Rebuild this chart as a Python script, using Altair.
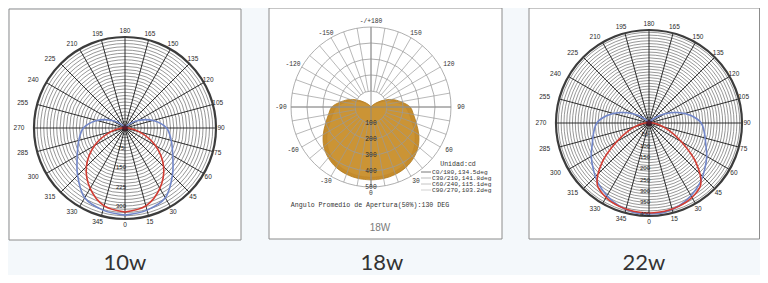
import altair as alt
import numpy as np
import pandas as pd

# ---------------- data ----------------
# 10w : candela at gamma angle (0 = straight down), mirrored for the other side
gamma15 = [0, 15, 30, 45, 60, 75, 90, 105, 120, 135, 150, 165, 180]
blue_10w = [335, 327, 310, 258, 212, 184, 160, 112, 58, 20, 5, 0, 0]
red_10w = [323, 310, 268, 210, 135, 58, 12, 0, 0, 0, 0, 0, 0]

# 18w and 22w : candela every 10 degrees
gamma10 = [0, 10, 20, 30, 40, 50, 60, 70, 80, 90, 100, 110, 120, 130, 140, 150, 160, 170, 180]
c0_18w = [456, 454, 448, 436, 415, 385, 345, 302, 270, 245, 190, 138, 80, 35, 12, 3, 0, 0, 0]
c90_18w = [440, 437, 430, 416, 392, 358, 315, 272, 242, 215, 165, 110, 58, 22, 6, 0, 0, 0, 0]
blue_22w = [401, 399, 388, 370, 348, 320, 294, 266, 248, 230, 188, 135, 82, 40, 15, 4, 0, 0, 0]
red_22w = [397, 395, 390, 379, 355, 270, 165, 92, 45, 18, 5, 0, 0, 0, 0, 0, 0, 0, 0]

# tick labels
angle_ticks_15 = list(range(0, 360, 15))
angle_ticks_30 = list(range(0, 360, 30))
angle_text_18w = ["0", "30", "60", "90", "120", "150", "-/+180",
                  "-150", "-120", "-90", "-60", "-30"]
radial_ticks_10w = [75, 150, 225, 300]
radial_ticks_22w = [50, 100, 150, 200, 250, 300, 350, 400]
radial_ticks_18w = [100, 200, 300, 400, 500]
legend_18w = ["C0/180,134.5deg", "C30/210,141.8deg", "C60/240,115.1deg", "C90/270,103.2deg"]
legend_title_18w = "Unidad:cd"
note_18w = "Angulo Promedio de Apertura(50%):130 DEG"
inner_title_18w = "18W"
titles = ["10w", "18w", "22w"]

# ---------------- layout ----------------
P1 = dict(cx=125, cy=128, R=91, vmax=350, ring=12.5)
P2 = dict(cx=371, cy=107, R=80, vmax=500, ring=100)
P3 = dict(cx=649, cy=123, R=93, vmax=410, ring=12.5)
boxes = pd.DataFrame({"x": [9, 269, 529], "x2": [241, 502, 759.5],
                      "y": [9, 8, 8], "y2": [240, 239, 239]})
title_pos = pd.DataFrame({"t": titles, "x": [125, 382, 644], "y": [263, 263, 263]})

XS = alt.Scale(domain=[8, 760], nice=False, zero=False)
YS = alt.Scale(domain=[8, 275], nice=False, zero=False, reverse=True)


def xy(p, theta, val):
    r = np.asarray(val, float) / p["vmax"] * p["R"]
    t = np.radians(np.asarray(theta, float))
    return p["cx"] + r * np.sin(t), p["cy"] + r * np.cos(t)


def curve(p, gam, vals):
    th = list(gam) + [360 - g for g in reversed(gam[:-1])]
    vv = list(vals) + list(reversed(vals[:-1]))
    x, y = xy(p, th, vv)
    return pd.DataFrame({"x": x, "y": y, "o": range(len(th))})


def XY():
    return dict(x=alt.X("x:Q", scale=XS, axis=None), y=alt.Y("y:Q", scale=YS, axis=None))


def line_layer(df, color, width, fill=None, opacity=1.0, interp="catmull-rom"):
    kw = dict(color=color, strokeWidth=width, interpolate=interp, opacity=opacity)
    if fill:
        kw["fill"] = fill
    return alt.Chart(df).mark_line(**kw).encode(order="o:Q", **XY())


def rings(p, step, vmax, color, width):
    vals = np.arange(step, vmax + 1e-6, step)
    d = pd.DataFrame({"x": p["cx"], "y": p["cy"], "s": (2 * vals / p["vmax"] * p["R"]) ** 2})
    return alt.Chart(d).mark_point(shape="circle", filled=False, color=color,
                                   strokeWidth=width, opacity=1).encode(
        size=alt.Size("s:Q", scale=None), **XY())


def spokes(p, angles, r0, r1, color, width):
    x0, y0 = xy(p, angles, [r0] * len(angles))
    x1, y1 = xy(p, angles, [r1] * len(angles))
    d = pd.DataFrame({"x": x0, "y": y0, "x2": x1, "y2": y1})
    return alt.Chart(d).mark_rule(color=color, strokeWidth=width).encode(
        x2="x2:Q", y2="y2:Q", **XY())


def angle_labels(p, angles, texts, dr, dl, dv, font, size, color):
    t = np.radians(angles)
    s, c = np.sin(t), np.cos(t)
    x = p["cx"] + np.where(s < -0.01, s * (p["R"] + dl), s * (p["R"] + dr))
    y = p["cy"] + c * (p["R"] + dv)
    d = pd.DataFrame({"x": x, "y": y, "t": texts})
    return alt.Chart(d).mark_text(font=font, fontSize=size, color=color,
                                  align="center", baseline="middle").encode(text="t:N", **XY())


def radial_labels(p, ticks, dx, font, size, color):
    x, y = xy(p, [0] * len(ticks), ticks)
    d = pd.DataFrame({"x": x + dx, "y": y, "t": [str(v) for v in ticks]})
    return alt.Chart(d).mark_text(font=font, fontSize=size, color=color,
                                  align="center", baseline="middle").encode(text="t:N", **XY())


def center_dot(p):
    d = pd.DataFrame({"x": [p["cx"]], "y": [p["cy"]]})
    return alt.Chart(d).mark_point(shape="circle", filled=True, color="#4a1628",
                                   size=30, opacity=0.85).encode(**XY())


layers = []
# frames
layers.append(alt.Chart(boxes).mark_rect(fill="white", stroke="#8c8c8c", strokeWidth=1).encode(
    x=alt.X("x:Q", scale=XS, axis=None), x2="x2:Q",
    y=alt.Y("y:Q", scale=YS, axis=None), y2="y2:Q"))

# ---- 10w and 22w dense grids ----
for p in (P1, P3):
    layers.append(rings(p, p["ring"], p["vmax"] - 1, "#6a6a6a", 0.7))
    layers.append(spokes(p, angle_ticks_15, 0, p["vmax"], "#1a1a1a", 0.9))
    layers.append(rings(p, p["vmax"], p["vmax"], "#3c3c3c", 2.2))

layers.append(line_layer(curve(P1, gamma15, blue_10w), "#7186c9", 1.6))
layers.append(line_layer(curve(P1, gamma15, red_10w), "#d23c33", 1.6))
layers.append(line_layer(curve(P3, gamma10, blue_22w), "#7186c9", 1.6))
layers.append(line_layer(curve(P3, gamma10, red_22w), "#d23c33", 1.6))
layers.append(center_dot(P1))
layers.append(center_dot(P3))

for p, ticks in ((P1, radial_ticks_10w), (P3, radial_ticks_22w)):
    layers.append(angle_labels(p, angle_ticks_15, [str(a) for a in angle_ticks_15],
                               5, 15, 6, "Liberation Sans", 6.5, "#2a2a2a"))
    layers.append(radial_labels(p, ticks, -4, "Liberation Sans", 6, "#222222"))

# ---- 18w ----
layers.append(line_layer(curve(P2, gamma10, c0_18w), "#b07a1e", 0.8, fill="#c68c2b"))
layers.append(line_layer(curve(P2, gamma10, c90_18w), "#bd8730", 0.6, fill="#cc9537", opacity=0.9))
layers.append(rings(P2, P2["ring"], P2["vmax"], "#9a9a9a", 0.8))
layers.append(spokes(P2, list(range(0, 360, 10)), 100, 500, "#9a9a9a", 0.7))
layers.append(spokes(P2, [0, 90, 180, 270], 0, 500, "#8a8a8a", 0.9))
layers.append(angle_labels(P2, angle_ticks_30, angle_text_18w, 10, 10, 6,
                           "Liberation Mono", 6.3, "#333333"))
layers.append(radial_labels(P2, radial_ticks_18w, 0, "Liberation Mono", 6.3, "#2a2a2a"))

leg = pd.DataFrame({"t": legend_18w, "x": 432, "x0": 421, "x1": 431,
                    "y": [172, 178, 184, 190],
                    "c": ["#555555", "#aaaaaa", "#b5b5b5", "#c5c5c5"]})
layers.append(alt.Chart(leg).mark_text(font="Liberation Mono", fontSize=6.2, color="#333333",
                                       align="left", baseline="middle").encode(text="t:N", **XY()))
layers.append(alt.Chart(leg).mark_rule(strokeWidth=0.8).encode(
    x=alt.X("x0:Q", scale=XS, axis=None), x2="x1:Q",
    y=alt.Y("y:Q", scale=YS, axis=None),
    color=alt.Color("c:N", scale=None)))
misc = pd.DataFrame({"t": [legend_title_18w, note_18w], "x": [458, 370], "y": [164, 205]})
layers.append(alt.Chart(misc).mark_text(font="Liberation Mono", fontSize=6.6, color="#333333",
                                        align="center", baseline="middle").encode(text="t:N", **XY()))
inner = pd.DataFrame({"t": [inner_title_18w], "x": [380], "y": [228]})
layers.append(alt.Chart(inner).mark_text(font="Liberation Sans", fontSize=10, color="#7a7a7a",
                                         align="center", baseline="middle").encode(text="t:N", **XY()))

# bottom titles
layers.append(alt.Chart(title_pos).mark_text(font="Lato", fontSize=22, color="#333333",
                                             align="center", baseline="middle").encode(
    text="t:N", **XY()))

chart = alt.layer(*layers).properties(
    width=752, height=267, autosize=alt.AutoSizeParams(type="none"), padding=0,
    background="#f4f8fb"
).configure_view(stroke=None)

chart.save("out.html", embed_options={"renderer": "svg", "actions": False})
